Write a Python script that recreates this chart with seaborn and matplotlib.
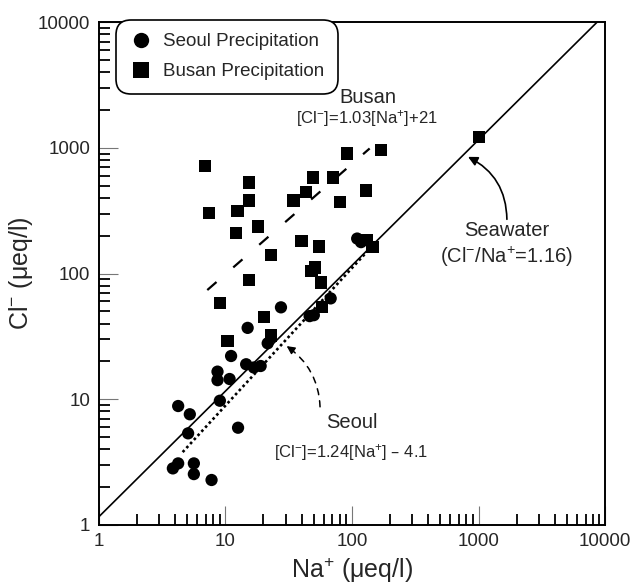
import numpy as np
import pandas as pd
import matplotlib
matplotlib.use("Agg")
import matplotlib.pyplot as plt
import seaborn as sns

# Na+ / Cl- concentrations (ueq/l)
seoul_na = [3.85, 4.24, 4.24, 5.08, 5.24, 5.64, 5.64, 7.78, 8.67, 8.67, 9.05, 10.8, 11.1,
            12.6, 14.6, 15.0, 16.8, 19.0, 21.6, 27.5, 46.3, 50.0, 67.9, 110, 118]
seoul_cl = [2.82, 3.09, 8.84, 5.36, 7.6, 3.09, 2.54, 2.28, 16.6, 14.2, 9.74, 14.5, 22.1,
            5.94, 19.0, 37.0, 17.9, 18.4, 27.9, 53.9, 45.9, 46.7, 63.5, 190, 178]

busan_na = [6.9, 7.4, 9.05, 10.4, 12.1, 12.5, 15.3, 15.4, 15.4, 18.0, 20.3, 22.9, 22.9, 34.6,
            40.0, 43.3, 48.0, 51.0, 49.2, 55.2, 56.9, 58.2, 71.1, 80.9, 90.8, 129, 132, 145,
            169, 1009]
busan_cl = [716, 303, 58, 29.2, 210, 316, 531, 382, 89, 237, 44.9, 140, 32.2, 382,
            181, 445, 105, 112, 582, 164, 85, 54.5, 582, 372, 903, 459, 185, 163,
            959, 1225]

# reference / fitted lines
seawater_ratio = 1.16
seawater_x = [1, 10000]
busan_fit_x = [7.2, 138]
busan_fit_y = [74, 990]
seoul_fit_x = [4.6, 140]
seoul_fit_y = [3.8, 160]

sns.set_style("ticks")
plt.rcParams['font.family'] = ['Liberation Sans', 'DejaVu Sans']
plt.rcParams['mathtext.default'] = 'regular'

df = pd.DataFrame({
    'Na': seoul_na + busan_na,
    'Cl': seoul_cl + busan_cl,
    'site': ['Seoul Precipitation'] * len(seoul_na) + ['Busan Precipitation'] * len(busan_na),
})

fig = plt.figure(figsize=(6.33, 5.85), dpi=100)
ax = fig.add_axes([0.156, 0.1026, 0.8, 0.8594])

# seawater line
sx = np.array(seawater_x, dtype=float)
ax.plot(sx, sx * seawater_ratio, color='black', lw=1.2, zorder=1)
# Busan fit (dashed)
ax.plot(busan_fit_x, busan_fit_y, color='black', lw=1.6, dashes=(5.5, 10), zorder=1)
# Seoul fit (dotted)
ax.plot(seoul_fit_x, seoul_fit_y, color='black', lw=1.9, dashes=(1, 1.1), zorder=1)

sns.scatterplot(data=df, x='Na', y='Cl', style='site',
                markers={'Seoul Precipitation': 'o', 'Busan Precipitation': 's'},
                color='black', s=78, edgecolor='black', linewidth=0, ax=ax, zorder=3)

ax.set_xscale('log')
ax.set_yscale('log')
ax.set_xlim(1, 10000)
ax.set_ylim(1, 10000)
ticks = [1, 10, 100, 1000, 10000]
ax.set_xticks(ticks)
ax.set_xticklabels([str(t) for t in ticks])
ax.set_yticks(ticks)
ax.set_yticklabels([str(t) for t in ticks])
ax.tick_params(which='major', direction='in', length=14, width=0.8, color='#777777',
               labelsize=13.5, pad=6)
ax.tick_params(which='minor', direction='in', length=8, width=1.3, color='black')
for sp in ax.spines.values():
    sp.set_linewidth(1.4)
    sp.set_color('black')

ax.set_xlabel('Na$^{+}$ (μeq/l)', fontsize=18, labelpad=4)
ax.set_ylabel('Cl$^{-}$ (μeq/l)', fontsize=18, labelpad=2)

leg = ax.legend(loc='upper left', bbox_to_anchor=(0.042, 0.997), borderaxespad=0,
                fontsize=13.5, frameon=True, fancybox=True, markerscale=1.25,
                handletextpad=0.6, labelspacing=0.7, borderpad=0.5, handlelength=1.2)
leg.get_frame().set_edgecolor('black')
leg.get_frame().set_linewidth(1.2)
leg.get_frame().set_boxstyle('round,pad=0.2,rounding_size=0.8')
leg.get_frame().set_alpha(1)

# annotations
ax.text(0.532, 0.851, 'Busan', transform=ax.transAxes, ha='center', va='center', fontsize=14.5)
ax.text(0.530, 0.809, '[Cl$^{-}$]=1.03[Na$^{+}$]+21', transform=ax.transAxes,
        ha='center', va='center', fontsize=12)
ax.text(0.806, 0.586, 'Seawater', transform=ax.transAxes, ha='center', va='center', fontsize=14.5)
ax.text(0.806, 0.533, '(Cl$^{-}$/Na$^{+}$=1.16)', transform=ax.transAxes,
        ha='center', va='center', fontsize=14.5)
ax.text(0.500, 0.203, 'Seoul', transform=ax.transAxes, ha='center', va='center', fontsize=14.5)
ax.text(0.498, 0.145, '[Cl$^{-}$]=1.24[Na$^{+}$] – 4.1', transform=ax.transAxes,
        ha='center', va='center', fontsize=12)

ax.annotate('', xy=(826, 849), xycoords='data', xytext=(0.806, 0.608), textcoords='axes fraction',
            arrowprops=dict(arrowstyle='-|>', color='black', lw=1.2, mutation_scale=14,
                            connectionstyle='arc3,rad=0.3', shrinkA=0, shrinkB=0))
# Seoul pointer: dashed curve plus a solid head
ax.annotate('', xy=(30.5, 26.5), xycoords='data', xytext=(0.437, 0.235), textcoords='axes fraction',
            arrowprops=dict(arrowstyle='-', color='black', lw=1.1, linestyle=(0, (4, 4)),
                            connectionstyle='arc3,rad=0.25', shrinkA=0, shrinkB=0))
ax.annotate('', xy=(30.5, 26.5), xycoords='data', xytext=(5, -3.5), textcoords='offset points',
            arrowprops=dict(arrowstyle='-|>', color='black', lw=1.0, mutation_scale=12,
                            shrinkA=0, shrinkB=0))

fig.savefig('out.png', dpi=100)
